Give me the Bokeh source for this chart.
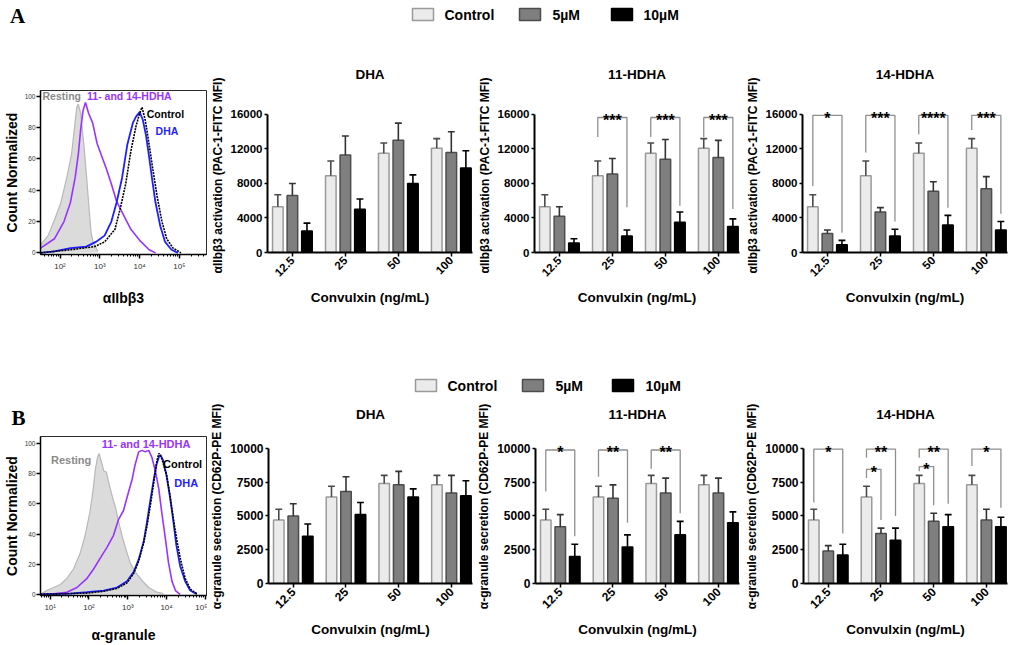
import math
import numpy as np
from bokeh.plotting import figure
from bokeh.layouts import column, row
from bokeh.models import Range1d, FixedTicker
from bokeh.core.properties import value
from bokeh.embed import file_html
from bokeh.resources import INLINE

FONT = "Liberation Sans"
SERIF = "Liberation Serif"

# ------------------------------------------------------------------ data
conc_labels = ["12.5", "25", "50", "100"]
series_names = ["Control", "5µM", "10µM"]
panel_titles = ["DHA", "11-HDHA", "14-HDHA"]

# Row A : αIIbβ3 activation (PAC-1-FITC MFI)
A_ctrl = [5300, 8900, 11500, 12100]
A_ctrl_err = [1400, 1700, 1200, 1100]
A_dha_5 = [6600, 11300, 13000, 11600]
A_dha_5_err = [1400, 2200, 2000, 2400]
A_dha_10 = [2500, 5000, 8000, 9800]
A_dha_10_err = [900, 1200, 1000, 2000]
A_h11_5 = [4200, 9100, 10800, 11000]
A_h11_5_err = [1100, 1800, 2300, 2000]
A_h11_10 = [1100, 1900, 3500, 3000]
A_h11_10_err = [500, 700, 1200, 900]
A_h14_5 = [2200, 4700, 7100, 7400]
A_h14_5_err = [400, 500, 1100, 1400]
A_h14_10 = [900, 1900, 3200, 2600]
A_h14_10_err = [500, 800, 1100, 1000]

# Row B : α-granule secretion (CD62P-PE MFI)
B_ctrl = [4700, 6400, 7400, 7300]
B_ctrl_err = [800, 800, 600, 700]
B_dha_5 = [5000, 6800, 7300, 6700]
B_dha_5_err = [900, 1100, 1000, 1300]
B_dha_10 = [3500, 5100, 6400, 6500]
B_dha_10_err = [900, 900, 600, 1100]
B_h11_5 = [4200, 6300, 6700, 6700]
B_h11_5_err = [900, 1000, 1100, 1100]
B_h11_10 = [2000, 2700, 3600, 4500]
B_h11_10_err = [900, 900, 1000, 800]
B_h14_5 = [2400, 3700, 4600, 4700]
B_h14_5_err = [400, 400, 600, 800]
B_h14_10 = [2100, 3200, 4200, 4200]
B_h14_10_err = [800, 900, 900, 700]

# significance brackets: (group, from series, to series, top, left leg end, right leg end, label)
A_h11_brackets = [(1, 0, 2, 15650, 13400, 5250, "***"),
                  (2, 0, 2, 15650, 13400, 5430, "***"),
                  (3, 0, 2, 15650, 13400, 5050, "***")]
A_h14_brackets = [(0, 0, 2, 15900, 7700, 2300, "*"),
                  (1, 0, 2, 15900, 11600, 3600, "***"),
                  (2, 0, 2, 15900, 13700, 5200, "****"),
                  (3, 0, 2, 15900, 14200, 4500, "***")]
B_h11_brackets = [(0, 0, 2, 9880, 6800, 3500, "*"),
                  (1, 0, 2, 9880, 7900, 4500, "**"),
                  (2, 0, 2, 9880, 8500, 5200, "**")]
B_h14_brackets = [(0, 0, 2, 9950, 6000, 3700, "*"),
                  (1, 0, 2, 9950, 9300, 5000, "**"),
                  (1, 0, 1, 8450, 7800, 4700, "*"),
                  (2, 0, 2, 9950, 9300, 5900, "**"),
                  (2, 0, 1, 8650, 8300, 5800, "*"),
                  (3, 0, 2, 9950, 8700, 5600, "*")]

# flow-cytometry histograms (x = log10 fluorescence, y = count normalized)
A_rest_x = [1.51, 1.70, 1.86, 2.02, 2.17, 2.29, 2.36, 2.42, 2.46, 2.52, 2.60, 2.67, 2.73, 2.78, 2.83, 2.95]
A_rest_y = [5, 11, 21, 32, 48, 63, 79, 93, 95, 89, 69, 48, 28, 13, 7, 1]
A_hdha_x = [1.51, 1.86, 2.10, 2.26, 2.38, 2.46, 2.52, 2.58, 2.64, 2.72, 2.82, 2.93, 3.03, 3.16, 3.29, 3.42, 3.60, 3.78, 4.00, 4.24, 4.40]
A_hdha_y = [3, 9, 20, 32, 48, 63, 79, 91, 96, 89, 83, 70, 63, 54, 44, 33, 24, 15, 8, 2, 0]
A_dha_x = [1.51, 1.86, 2.26, 2.66, 2.90, 3.12, 3.29, 3.42, 3.56, 3.69, 3.83, 3.91, 4.00, 4.08, 4.16, 4.24, 4.32, 4.40, 4.52, 4.64, 4.80, 4.96]
A_dha_y = [0, 1, 3, 4, 7, 11, 20, 32, 48, 69, 83, 87, 90, 85, 75, 61, 46, 32, 17, 7, 2, 0]
A_con_x = [1.51, 2.26, 2.87, 3.12, 3.38, 3.51, 3.65, 3.78, 3.91, 4.00, 4.06, 4.14, 4.24, 4.34, 4.44, 4.56, 4.68, 4.84, 5.04]
A_con_y = [0, 2, 4, 7, 15, 28, 44, 65, 81, 89, 93, 85, 69, 52, 36, 20, 9, 3, 0]

B_rest_x = [0.75, 0.91, 1.09, 1.26, 1.43, 1.60, 1.77, 1.90, 2.02, 2.10, 2.16, 2.22, 2.26, 2.32, 2.38, 2.45, 2.51, 2.59, 2.68, 2.76, 2.85, 2.94, 3.06, 3.19, 3.37, 3.54, 3.75, 3.92]
B_rest_y = [0, 2.5, 4.5, 6.5, 10.6, 16.8, 27, 39, 54, 68, 82, 91, 93.5, 88, 82, 81, 74, 66, 58, 48.5, 39, 31, 21, 15, 9, 4.5, 1.4, 0.4]
B_hdha_x = [0.75, 1.09, 1.43, 1.69, 1.95, 2.12, 2.29, 2.46, 2.63, 2.76, 2.89, 3.00, 3.11, 3.19, 3.28, 3.37, 3.45, 3.54, 3.62, 3.71, 3.80, 3.88, 3.97, 4.05, 4.14, 4.23, 4.35]
B_hdha_y = [0, 0.4, 1.4, 4.5, 10.6, 16.8, 24, 31, 39, 49.5, 55.6, 66, 76, 86, 94.5, 95.5, 94.5, 95.5, 91, 82, 70, 53.6, 37, 21, 8.6, 2.5, 0]
B_dha_x = [0.75, 1.52, 1.95, 2.38, 2.72, 2.98, 3.15, 3.28, 3.41, 3.49, 3.58, 3.67, 3.74, 3.80, 3.84, 3.91, 3.99, 4.08, 4.17, 4.25, 4.35, 4.48, 4.61, 4.78]
B_dha_y = [0, 0.4, 1.4, 2.5, 4.5, 8.6, 14.7, 23, 35, 47, 62, 76, 86, 91, 92.4, 89, 80, 66, 49.5, 33, 18.8, 8.6, 2.5, 0]
B_con_x = [0.75, 1.95, 2.38, 2.72, 2.98, 3.15, 3.28, 3.41, 3.51, 3.60, 3.68, 3.75, 3.80, 3.86, 3.92, 4.01, 4.10, 4.18, 4.27, 4.37, 4.48, 4.61, 4.78]
B_con_y = [0, 0.8, 2, 3.9, 7.6, 13.7, 21.9, 34, 47.4, 61.8, 76.1, 88.3, 93.5, 91.4, 86.3, 78.1, 63.8, 49.5, 35.2, 21.9, 10.6, 3.5, 0.4]

hist_labels = ["Resting", "11- and 14-HDHA", "Control", "DHA"]
A_hist_label_x = [1.56, 2.68, 4.18, 4.40]
A_hist_label_y = [100, 100, 89, 77.6]
B_hist_label_x = [1.02, 2.33, 3.91, 4.20]
B_hist_label_y = [89.4, 99.6, 86.7, 74]

# ------------------------------------------------------------------ styling
OFFS = [-0.275, 0.0, 0.275]
BAR_W = 0.2
FILLS = ["#ebebeb", "#7f7f7f", "#000000"]
LINES = ["#9a9a9a", "#4d4d4d", "#000000"]
ERRC = ["#4a4a4a", "#333333", "#000000"]
HIST_COLORS = ["#8a8a8a", "#9933ff", "#000000", "#1f1fff"]

W_TOTAL = 1011
HIST_W = 207
BAR_FIG_W = [267, 268, 269]
BAR_FRAME_W = [205, 205, 205]
BORDER_L = 60
XR = (0.53, 4.40)


def style_axis(ax, size, tick_out=3):
    ax.axis_line_color = "black"
    ax.axis_line_width = 2
    ax.major_tick_line_color = "black"
    ax.major_tick_line_width = 1.5
    ax.major_tick_out = tick_out
    ax.major_tick_in = 0
    ax.minor_tick_line_color = None
    ax.major_label_text_font = FONT
    ax.major_label_text_font_style = "bold"
    ax.major_label_text_font_size = size
    ax.major_label_text_color = "black"
    ax.axis_label_text_font = FONT
    ax.axis_label_text_font_style = "bold"
    ax.axis_label_text_color = "black"


def bar_panel(k, height, top_b, frame_h, means, errs, y_end, y_top, y_step,
              ylabel, ylab_size, tick_size, brackets, title_standoff):
    w = BAR_FIG_W[k]
    fw = BAR_FRAME_W[k]
    p = figure(width=w, height=height, x_range=Range1d(*XR), y_range=Range1d(0, y_end),
               output_backend="svg", toolbar_location=None,
               min_border_left=BORDER_L, min_border_right=w - BORDER_L - fw,
               min_border_top=top_b, min_border_bottom=height - top_b - frame_h)
    p.title.text = panel_titles[k]
    p.title.align = "center"
    p.title.text_font = FONT
    p.title.text_font_style = "bold"
    p.title.text_font_size = "13.5px"
    p.title.text_color = "black"
    p.title.standoff = title_standoff
    p.outline_line_color = None
    p.grid.visible = False
    groups = np.arange(1, len(conc_labels) + 1)
    for s in range(3):
        xs = groups + OFFS[s]
        p.vbar(x=xs, top=means[s], width=BAR_W, fill_color=FILLS[s],
               line_color=LINES[s], line_width=1.5)
    for s in range(3):
        xs = groups + OFFS[s]
        tops = np.array(means[s]) + np.array(errs[s])
        p.segment(x0=xs, y0=means[s], x1=xs, y1=tops, line_color=ERRC[s], line_width=1.6)
        p.segment(x0=xs - 0.065, y0=tops, x1=xs + 0.065, y1=tops, line_color=ERRC[s], line_width=1.6)
    for (g, s0, s1, top, lend, rend, lab) in brackets:
        x0 = g + 1 + OFFS[s0]
        x1 = g + 1 + OFFS[s1]
        p.line([x0, x0, x1, x1], [lend, top, top, rend], line_color="#8f8f8f", line_width=1.3)
        p.text(x=[(x0 + x1) / 2], y=[top], text=[lab], text_align="center",
               text_baseline="alphabetic", text_font=value(FONT), text_font_style="bold",
               text_font_size="16px", text_color="black", y_offset=3)
    xa = p.xaxis[0]
    style_axis(xa, tick_size, tick_out=4)
    xa.ticker = FixedTicker(ticks=list(groups))
    xa.major_label_overrides = {int(g): conc_labels[i] for i, g in enumerate(groups)}
    xa.major_label_orientation = math.pi / 4
    xa.major_label_standoff = 2
    xa.axis_label = "Convulxin (ng/mL)"
    xa.axis_label_text_font_size = "13.5px"
    xa.axis_label_standoff = 7
    ya = p.yaxis[0]
    style_axis(ya, tick_size)
    ya.ticker = FixedTicker(ticks=list(range(0, y_top + 1, y_step)))
    ya.bounds = (0, y_top)
    ya.major_label_standoff = 2
    ya.axis_label = ylabel
    ya.axis_label_text_font_size = ylab_size
    ya.axis_label_standoff = 3
    return p


def hist_panel(height, top_b, frame_h, xr, yr, ticks, curves, lab_x, lab_y, xlabel,
               lab_size, xlab_standoff):
    p = figure(width=HIST_W, height=height, x_range=Range1d(*xr), y_range=Range1d(*yr),
               output_backend="svg", toolbar_location=None,
               min_border_left=36, min_border_right=1,
               min_border_top=top_b, min_border_bottom=height - top_b - frame_h)
    p.outline_line_color = "#2b2b2b"
    p.outline_line_width = 1
    p.grid.visible = False
    (rx, ry), (hx, hy), (cx, cy), (dx, dy) = curves
    p.varea(x=rx, y1=[0] * len(rx), y2=ry, fill_color="#d9d9d9", fill_alpha=0.95)
    p.line(rx, ry, line_color="#b8b8b8", line_width=1.2)
    p.line(hx, hy, line_color=HIST_COLORS[1], line_width=1.6)
    p.line(dx, dy, line_color=HIST_COLORS[3], line_width=1.8)
    p.line(cx, cy, line_color="black", line_width=1.6, line_dash="2 1")
    p.text(x=lab_x, y=lab_y, text=hist_labels, text_color=HIST_COLORS,
           text_align="left", text_baseline="middle", text_font=value(FONT),
           text_font_style="bold", text_font_size=lab_size)
    sup = {1: "¹", 2: "²", 3: "³", 4: "⁴", 5: "⁵"}
    minor = [math.log10(m * 10 ** n) for n in range(0, 6) for m in range(2, 10)
             if xr[0] <= math.log10(m * 10 ** n) <= xr[1]]
    xa = p.xaxis[0]
    style_axis(xa, "8px", tick_out=4)
    xa.axis_line_width = 1.5
    xa.ticker = FixedTicker(ticks=ticks, minor_ticks=minor)
    xa.major_label_overrides = {t: "10" + sup[t] for t in ticks}
    xa.major_label_text_font_style = "normal"
    xa.major_label_text_color = "#333333"
    xa.minor_tick_line_color = "black"
    xa.minor_tick_out = 2
    xa.minor_tick_in = 0
    xa.major_label_standoff = 3
    xa.axis_label = xlabel
    xa.axis_label_text_font_size = "14px"
    xa.axis_label_standoff = xlab_standoff
    ya = p.yaxis[0]
    style_axis(ya, "6.5px", tick_out=4)
    ya.axis_line_width = 1.5
    ya.ticker = FixedTicker(ticks=[0, 20, 40, 60, 80, 100])
    ya.major_label_text_font_style = "normal"
    ya.major_label_text_color = "#333333"
    ya.major_label_standoff = 1
    ya.axis_label = "Count Normalized"
    ya.axis_label_text_font_size = "14px"
    ya.axis_label_standoff = 2
    return p


def canvas(width, height):
    p = figure(width=width, height=height, x_range=Range1d(0, width),
               y_range=Range1d(height, 0), output_backend="svg", toolbar_location=None,
               x_axis_location=None, y_axis_location=None, min_border=0)
    p.outline_line_color = None
    p.grid.visible = False
    return p


def add_legend(p, box_l, txt_l, y):
    box_l = np.array(box_l)
    p.quad(left=box_l, right=box_l + 21, top=[y - 6] * 3, bottom=[y + 6] * 3,
           fill_color=FILLS, line_color=LINES, line_width=1.5)
    p.text(x=txt_l, y=[y] * 3, text=series_names, text_align="left",
           text_baseline="middle", text_font=value(FONT), text_font_style="bold",
           text_font_size="14px", text_color="black")


# ------------------------------------------------------------------ build
stripA = canvas(W_TOTAL, 40)
stripA.text(x=[17], y=[15], text=["A"], text_align="center", text_baseline="middle",
            text_font=value(SERIF), text_font_style="bold", text_font_size="21px",
            text_color="black")
add_legend(stripA, [412, 519, 611], [444, 552, 643], 14)

histA = hist_panel(268, 50, 170, (1.51, 5.68), (-1.05, 103.7), [2, 3, 4, 5],
                   [(A_rest_x, A_rest_y), (A_hdha_x, A_hdha_y), (A_con_x, A_con_y), (A_dha_x, A_dha_y)],
                   A_hist_label_x, A_hist_label_y, "αIIbβ3", "10.5px", 16)
ylabA = "αIIbβ3 activation (PAC-1-FITC MFI)"
a1 = bar_panel(0, 268, 58, 154, [A_ctrl, A_dha_5, A_dha_10], [A_ctrl_err, A_dha_5_err, A_dha_10_err],
               17855, 16000, 4000, ylabA, "12px", "11.5px", [], 33)
a2 = bar_panel(1, 268, 58, 154, [A_ctrl, A_h11_5, A_h11_10], [A_ctrl_err, A_h11_5_err, A_h11_10_err],
               17855, 16000, 4000, ylabA, "12px", "11.5px", A_h11_brackets, 33)
a3 = bar_panel(2, 268, 58, 154, [A_ctrl, A_h14_5, A_h14_10], [A_ctrl_err, A_h14_5_err, A_h14_10_err],
               17855, 16000, 4000, ylabA, "12px", "11.5px", A_h14_brackets, 33)

stripB = canvas(W_TOTAL, 88)
add_legend(stripB, [415, 522, 612], [447, 555, 645], 77)

ROWB_H = 249
histB = hist_panel(ROWB_H, 34, 172, (0.75, 5.03), (-0.8, 104.7), [1, 2, 3, 4, 5],
                   [(B_rest_x, B_rest_y), (B_hdha_x, B_hdha_y), (B_con_x, B_con_y), (B_dha_x, B_dha_y)],
                   B_hist_label_x, B_hist_label_y, "α-granule", "11px", 12)
histB.title.text = "B"
histB.title.align = "left"
histB.title.offset = -29
histB.title.text_font = SERIF
histB.title.text_font_style = "bold"
histB.title.text_font_size = "21px"
histB.title.text_color = "black"
histB.title.standoff = 14

ylabB = "α-granule secretion (CD62P-PE MFI)"
b1 = bar_panel(0, ROWB_H, 32, 155, [B_ctrl, B_dha_5, B_dha_10], [B_ctrl_err, B_dha_5_err, B_dha_10_err],
               11397, 10000, 2500, ylabB, "12px", "12px", [], 16)
b2 = bar_panel(1, ROWB_H, 32, 155, [B_ctrl, B_h11_5, B_h11_10], [B_ctrl_err, B_h11_5_err, B_h11_10_err],
               11397, 10000, 2500, ylabB, "12px", "12px", B_h11_brackets, 16)
b3 = bar_panel(2, ROWB_H, 32, 155, [B_ctrl, B_h14_5, B_h14_10], [B_ctrl_err, B_h14_5_err, B_h14_10_err],
               11397, 10000, 2500, ylabB, "12px", "12px", B_h14_brackets, 16)

layout = column(
    stripA,
    row(column(histA), column(a1), column(a2), column(a3)),
    stripB,
    row(column(histB), column(b1), column(b2), column(b3)),
)

open("out.html", "w").write(file_html(layout, INLINE, title="Platelet activation"))
